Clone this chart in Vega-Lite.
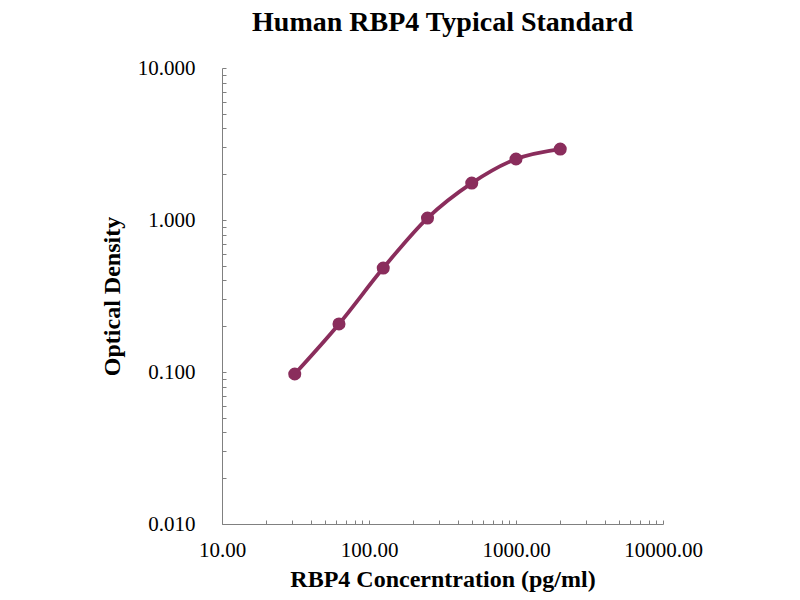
{
  "$schema": "https://vega.github.io/schema/vega-lite/v6.json",
  "autosize": "none",
  "width": 441,
  "height": 456,
  "padding": {"left": 222, "top": 68, "right": 137, "bottom": 76},
  "background": "white",
  "title": {
    "text": "Human RBP4 Typical Standard",
    "font": "Liberation Serif",
    "fontSize": 28,
    "fontWeight": "bold",
    "color": "black",
    "anchor": "middle",
    "offset": 20
  },
  "data": {
    "values": [
      {"conc": 31.25, "od": 0.097},
      {"conc": 62.5, "od": 0.207},
      {"conc": 125, "od": 0.483},
      {"conc": 250, "od": 1.03},
      {"conc": 500, "od": 1.75},
      {"conc": 1000, "od": 2.52},
      {"conc": 2000, "od": 2.93}
    ]
  },
  "encoding": {
    "x": {
      "field": "conc",
      "type": "quantitative",
      "title": "RBP4 Concerntration (pg/ml)",
      "scale": {"type": "log", "domain": [10, 10000], "nice": false},
      "axis": {
        "grid": false,
        "format": ".2f",
        "labelExpr": "abs(log(datum.value)/LN10 - round(log(datum.value)/LN10)) < 0.000001 ? datum.label : ''",
        "labelFlush": false,
        "labelOverlap": false,
        "tickSize": -4,
        "labelPadding": 19,
        "titlePadding": 7
      }
    },
    "y": {
      "field": "od",
      "type": "quantitative",
      "title": "Optical Density",
      "scale": {"type": "log", "domain": [0.01, 10], "nice": false},
      "axis": {
        "grid": false,
        "format": ".3f",
        "labelExpr": "abs(log(datum.value)/LN10 - round(log(datum.value)/LN10)) < 0.000001 ? datum.label : ''",
        "labelFlush": false,
        "labelOverlap": false,
        "tickSize": -4,
        "labelPadding": 31,
        "titlePadding": 13
      }
    }
  },
  "layer": [
    {
      "mark": {"type": "line", "color": "#8a2d5c", "strokeWidth": 3.8, "interpolate": "monotone"}
    },
    {
      "mark": {"type": "circle", "color": "#8a2d5c", "opacity": 1, "size": 170}
    }
  ],
  "config": {
    "view": {"stroke": null},
    "axis": {
      "domainColor": "#808080",
      "tickColor": "#808080",
      "labelFont": "Liberation Serif",
      "labelFontSize": 21,
      "labelColor": "black",
      "titleFont": "Liberation Serif",
      "titleFontSize": 24,
      "titleFontWeight": "bold",
      "titleColor": "black"
    }
  }
}
